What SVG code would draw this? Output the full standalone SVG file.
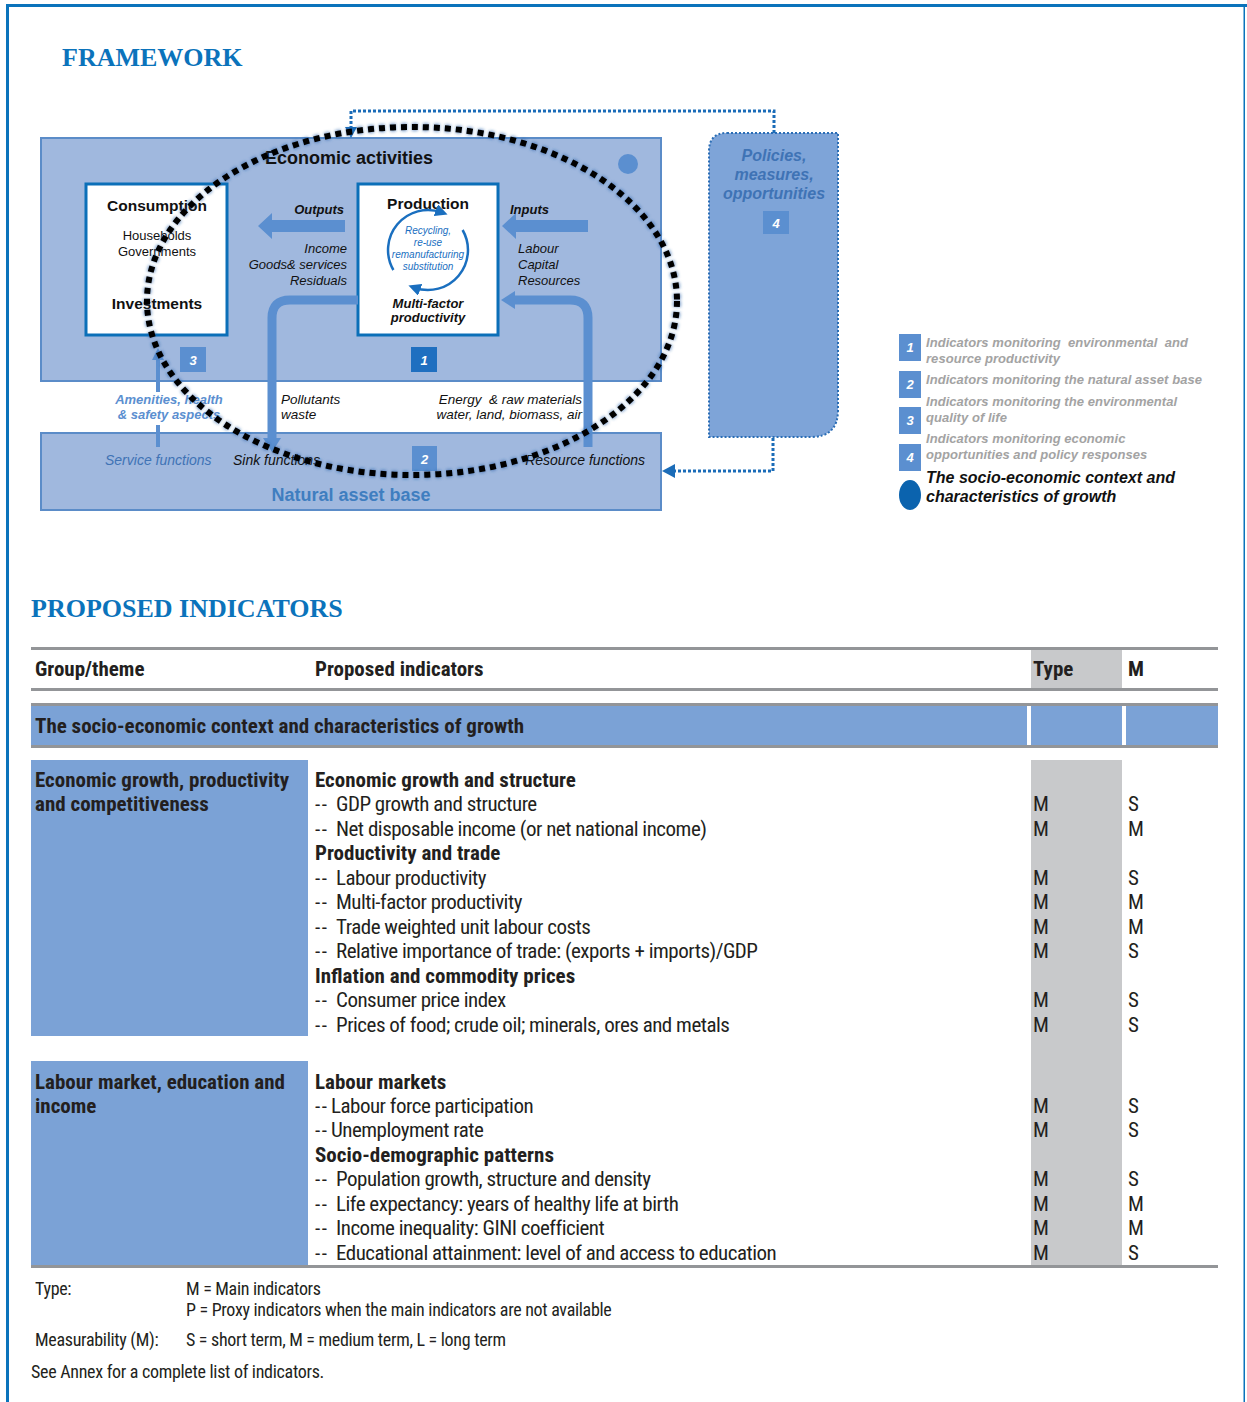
<svg xmlns="http://www.w3.org/2000/svg" width="1247" height="1402" viewBox="0 0 1247 1402">
<style>
.sans{font-family:"Liberation Sans",Arial,sans-serif}
.nar{font-family:"Liberation Sans Narrow","Arial Narrow","Roboto Condensed",sans-serif;font-stretch:condensed;fill:#231f20}
.serif{font-family:"Liberation Serif","Times New Roman",serif;font-weight:bold;fill:#0b73bb;font-size:26px}
.big{fill:#a0b8de;stroke:#5b8cc8;stroke-width:2}
.wbox{fill:#fff;stroke:#0b6fb8;stroke-width:3}
.badge{fill:#5b8fd0}
.bnum{font-family:"Liberation Sans",Arial,sans-serif;font-style:italic;font-weight:bold;fill:#fff;font-size:13px;text-anchor:middle}
.lg{font-family:"Liberation Sans",Arial,sans-serif;font-style:italic;font-weight:bold;fill:#a3a3a3;font-size:13px;letter-spacing:0.05px}
.it{font-style:italic}
.b{font-weight:bold}
.mid{text-anchor:middle}
.end{text-anchor:end}
.rule{fill:#939598}
.blue{fill:#7ba2d6}
.gray{fill:#c8c9cb}
.t21{font-size:21px}
.reg{letter-spacing:-0.5px}
.dash{letter-spacing:1.5px}
.f18{font-size:18px;letter-spacing:-0.3px}
</style>
<defs>
<marker id="ah" viewBox="0 0 10 10" refX="5" refY="5" markerWidth="5" markerHeight="5" orient="auto"><path d="M0,0 L10,5 L0,10 Z" fill="#1a6fbf"/></marker>
<filter id="glow" x="-10%" y="-10%" width="120%" height="120%"><feGaussianBlur stdDeviation="1.6"/></filter>
</defs>

<!-- page border -->
<g id="border">
<rect x="6" y="4" width="1241" height="3" fill="#0b73bb"/>
<rect x="6" y="4" width="3" height="1398" fill="#0b73bb"/>
<rect x="1243.5" y="6" width="1.5" height="1396" fill="#0b73bb"/>
</g>

<text class="serif" x="62" y="66">FRAMEWORK</text>

<!-- framework diagram -->
<g id="economic-activities">
<rect class="big" x="41" y="138" width="620" height="243"/>
<text class="sans b" x="265" y="164" font-size="18" fill="#111">Economic activities</text>
<circle cx="628" cy="164" r="10" fill="#5b8fd0"/>
</g>
<g id="natural-asset-base">
<rect class="big" x="41" y="433" width="620" height="77"/>
<text class="sans b mid" x="351" y="501" font-size="18" fill="#3f7ec0">Natural asset base</text>
<text class="sans it" x="105" y="465" font-size="14" fill="#3f73b5">Service functions</text>
<text class="sans it" x="233" y="465" font-size="14" fill="#111">Sink functions</text>
<text class="sans it end" x="645" y="465" font-size="14" fill="#111">Resource functions</text>
</g>
<g id="policies">
<path d="M727 133 H838 V410 Q838 437 811 437 H709 V151 Q709 133 727 133 Z" fill="#7ea4d8" stroke="#2a6db5" stroke-width="2" stroke-dasharray="2 2"/>
<text class="sans it b mid" font-size="16" fill="#3f73b5"><tspan x="774" y="161">Policies,</tspan><tspan x="774" y="180">measures,</tspan><tspan x="774" y="199">opportunities</tspan></text>
</g>
<g id="consumption">
<rect class="wbox" x="86" y="184" width="141" height="151"/>
<text class="sans b mid" x="157" y="211" font-size="15.5" fill="#111">Consumption</text>
<text class="sans mid" font-size="13" fill="#111"><tspan x="157" y="240">Households</tspan><tspan x="157" y="256">Governments</tspan></text>
<text class="sans b mid" x="157" y="309" font-size="15.5" fill="#111">Investments</text>
</g>
<g id="production">
<rect class="wbox" x="358" y="184" width="140" height="151"/>
<text class="sans b mid" x="428" y="209" font-size="15.5" fill="#111">Production</text>
<path d="M393.4 270 A40 40 0 0 1 441.7 212.4" fill="none" stroke="#1a6fbf" stroke-width="2.5" marker-end="url(#ah)"/>
<path d="M462.6 230 A40 40 0 0 1 414.3 287.6" fill="none" stroke="#1a6fbf" stroke-width="2.5" marker-end="url(#ah)"/>
<text class="sans it mid" font-size="10" fill="#1a6fbf"><tspan x="428" y="234">Recycling,</tspan><tspan x="428" y="246">re-use</tspan><tspan x="428" y="258">remanufacturing</tspan><tspan x="428" y="270">substitution</tspan></text>
<text class="sans it b mid" font-size="13" fill="#111"><tspan x="428" y="308">Multi-factor</tspan><tspan x="428" y="322">productivity</tspan></text>
</g>
<g id="badges">
<rect class="badge" x="180" y="347" width="26" height="25"/><text class="bnum" x="193" y="365">3</text>
<rect x="411" y="347" width="26" height="25" fill="#1f6fc0"/><text class="bnum" x="424" y="365">1</text>
<rect class="badge" x="412" y="446" width="25" height="25"/><text class="bnum" x="424.5" y="464">2</text>
<rect class="badge" x="763" y="211" width="26" height="23"/><text class="bnum" x="776" y="228">4</text>
</g>

<g id="connectors">
<!-- outputs -->
<path d="M345 220 H272 V213 L258 226 L272 239 V232 H345 Z" fill="#5b8fd0"/>
<!-- inputs -->
<path d="M588 220 H516 V213 L502 226 L516 239 V232 H588 Z" fill="#5b8fd0"/>
<!-- pollutants -->
<path d="M358 300 H290 Q272 300 272 318 V440" fill="none" stroke="#5b8fd0" stroke-width="9"/>
<path d="M263 438 L281 438 L272 452 Z" fill="#5b8fd0"/>
<!-- resources -->
<path d="M588 447 V318 Q588 300 570 300 H514" fill="none" stroke="#5b8fd0" stroke-width="9"/>
<path d="M515 291 L515 309 L501 300 Z" fill="#5b8fd0"/>
<!-- amenities -->
<path d="M158 358 V392 M158 425 V447" fill="none" stroke="#5b8fd0" stroke-width="4"/>
<path d="M152 360 L164 360 L158 348 Z" fill="#5b8fd0"/>
<text class="sans it b mid" font-size="13" fill="#5b8fd0"><tspan x="169" y="404">Amenities, health</tspan><tspan x="169" y="419">&amp; safety aspects</tspan></text>
<text class="sans it" font-size="13.5" fill="#111"><tspan x="281" y="404">Pollutants</tspan><tspan x="281" y="419">waste</tspan></text>
<text class="sans it end" font-size="13.5" fill="#111" xml:space="preserve"><tspan x="582" y="404">Energy  &amp; raw materials</tspan><tspan x="582" y="419">water, land, biomass, air</tspan></text>
<text class="sans it b end" x="344" y="214" font-size="13" fill="#111">Outputs</text>
<text class="sans it end" font-size="13" fill="#111"><tspan x="347" y="253">Income</tspan><tspan x="347" y="269">Goods&amp; services</tspan><tspan x="347" y="285">Residuals</tspan></text>
<text class="sans it b" x="510" y="214" font-size="13" fill="#111">Inputs</text>
<text class="sans it" font-size="13" fill="#111"><tspan x="518" y="253">Labour</tspan><tspan x="518" y="269">Capital</tspan><tspan x="518" y="285">Resources</tspan></text>
<!-- policy feedback -->
<path d="M774 133 V111 H351 V128" fill="none" stroke="#1b6cb8" stroke-width="3" stroke-dasharray="3 2"/>
<path d="M345 127 L357 127 L351 138 Z" fill="#1b6cb8"/>
<path d="M773 438 V471 H673" fill="none" stroke="#1b6cb8" stroke-width="3" stroke-dasharray="3 2"/>
<path d="M662 471 L675 464 L675 478 Z" fill="#1b6cb8"/>
<!-- dotted ellipse -->
<ellipse cx="412" cy="301" rx="265" ry="174" fill="none" stroke="#2a5fa8" stroke-opacity="0.6" stroke-width="8" stroke-dasharray="6 5" filter="url(#glow)"/>
<ellipse cx="412" cy="301" rx="265" ry="174" fill="none" stroke="#000" stroke-width="6" stroke-dasharray="6 5"/>
</g>

<g id="legend">
<rect class="badge" x="899" y="334" width="22" height="27"/><text class="bnum" x="910" y="352" font-size="12">1</text>
<rect class="badge" x="899" y="371" width="22" height="27"/><text class="bnum" x="910" y="389" font-size="12">2</text>
<rect class="badge" x="899" y="407" width="22" height="27"/><text class="bnum" x="910" y="425" font-size="12">3</text>
<rect class="badge" x="899" y="444" width="22" height="27"/><text class="bnum" x="910" y="462" font-size="12">4</text>
<ellipse cx="910" cy="495" rx="11" ry="15" fill="#0b63ae"/>
<text class="lg" xml:space="preserve"><tspan x="926" y="347">Indicators monitoring  environmental  and</tspan><tspan x="926" y="363">resource productivity</tspan></text>
<text class="lg" x="926" y="384">Indicators monitoring the natural asset base</text>
<text class="lg"><tspan x="926" y="406">Indicators monitoring the environmental</tspan><tspan x="926" y="422">quality of life</tspan></text>
<text class="lg"><tspan x="926" y="443">Indicators monitoring economic</tspan><tspan x="926" y="459">opportunities and policy responses</tspan></text>
<text class="sans it b" font-size="16" fill="#111"><tspan x="926" y="483">The socio-economic context and</tspan><tspan x="926" y="502">characteristics of growth</tspan></text>
</g>

<text class="serif" x="31" y="617">PROPOSED INDICATORS</text>

<!-- table -->
<g id="table">
<rect class="gray" x="1031" y="649" width="91" height="39"/>
<rect class="rule" x="31" y="647" width="1187" height="3"/>
<rect class="rule" x="31" y="688" width="1187" height="3"/>
<rect class="rule" x="31" y="703" width="1187" height="3"/>
<rect class="blue" x="31" y="706" width="996" height="39"/>
<rect class="blue" x="1031" y="706" width="91" height="39"/>
<rect class="blue" x="1126" y="706" width="92" height="39"/>
<rect class="rule" x="31" y="745" width="1187" height="3"/>
<rect class="gray" x="1031" y="760" width="91" height="505"/>
<rect class="blue" x="31" y="760" width="277" height="276"/>
<rect class="blue" x="31" y="1061" width="277" height="204"/>
<rect class="rule" x="31" y="1265" width="1187" height="3"/>

<g class="nar t21 b">
<text x="35" y="676">Group/theme</text>
<text x="315" y="676">Proposed indicators</text>
<text x="1033" y="676">Type</text>
<text x="1128" y="676">M</text>
<text x="35" y="733">The socio-economic context and characteristics of growth</text>
<text><tspan x="35" y="787">Economic growth, productivity</tspan><tspan x="35" y="811">and competitiveness</tspan></text>
<text><tspan x="35" y="1089">Labour market, education and</tspan><tspan x="35" y="1113">income</tspan></text>
<text x="315" y="787">Economic growth and structure</text>
<text x="315" y="860">Productivity and trade</text>
<text x="315" y="983">Inflation and commodity prices</text>
<text x="315" y="1089">Labour markets</text>
<text x="315" y="1162">Socio-demographic patterns</text>
</g>
<g class="nar t21 reg">
<text x="315" y="811"><tspan class="dash">--</tspan><tspan x="336">GDP growth and structure</tspan></text>
<text x="315" y="836"><tspan class="dash">--</tspan><tspan x="336">Net disposable income (or net national income)</tspan></text>
<text x="315" y="885"><tspan class="dash">--</tspan><tspan x="336">Labour productivity</tspan></text>
<text x="315" y="909"><tspan class="dash">--</tspan><tspan x="336">Multi-factor productivity</tspan></text>
<text x="315" y="934"><tspan class="dash">--</tspan><tspan x="336">Trade weighted unit labour costs</tspan></text>
<text x="315" y="958"><tspan class="dash">--</tspan><tspan x="336">Relative importance of trade: (exports + imports)/GDP</tspan></text>
<text x="315" y="1007"><tspan class="dash">--</tspan><tspan x="336">Consumer price index</tspan></text>
<text x="315" y="1032"><tspan class="dash">--</tspan><tspan x="336">Prices of food; crude oil; minerals, ores and metals</tspan></text>
<text x="315" y="1113"><tspan class="dash">--</tspan><tspan x="331">Labour force participation</tspan></text>
<text x="315" y="1137"><tspan class="dash">--</tspan><tspan x="331">Unemployment rate</tspan></text>
<text x="315" y="1186"><tspan class="dash">--</tspan><tspan x="336">Population growth, structure and density</tspan></text>
<text x="315" y="1211"><tspan class="dash">--</tspan><tspan x="336">Life expectancy: years of healthy life at birth</tspan></text>
<text x="315" y="1235"><tspan class="dash">--</tspan><tspan x="336">Income inequality: GINI coefficient</tspan></text>
<text x="315" y="1260"><tspan class="dash">--</tspan><tspan x="336">Educational attainment: level of and access to education</tspan></text>

<text x="1033" y="811">M</text><text x="1128" y="811">S</text>
<text x="1033" y="836">M</text><text x="1128" y="836">M</text>
<text x="1033" y="885">M</text><text x="1128" y="885">S</text>
<text x="1033" y="909">M</text><text x="1128" y="909">M</text>
<text x="1033" y="934">M</text><text x="1128" y="934">M</text>
<text x="1033" y="958">M</text><text x="1128" y="958">S</text>
<text x="1033" y="1007">M</text><text x="1128" y="1007">S</text>
<text x="1033" y="1032">M</text><text x="1128" y="1032">S</text>
<text x="1033" y="1113">M</text><text x="1128" y="1113">S</text>
<text x="1033" y="1137">M</text><text x="1128" y="1137">S</text>
<text x="1033" y="1186">M</text><text x="1128" y="1186">S</text>
<text x="1033" y="1211">M</text><text x="1128" y="1211">M</text>
<text x="1033" y="1235">M</text><text x="1128" y="1235">M</text>
<text x="1033" y="1260">M</text><text x="1128" y="1260">S</text>
</g>
</g>

<g id="notes" class="nar f18">
<text x="35" y="1295">Type:</text>
<text x="186" y="1295">M = Main indicators</text>
<text x="186" y="1316">P = Proxy indicators when the main indicators are not available</text>
<text x="35" y="1346">Measurability (M):</text>
<text x="186" y="1346">S = short term, M = medium term, L = long term</text>
<text x="31" y="1378">See Annex for a complete list of indicators.</text>
</g>
</svg>
